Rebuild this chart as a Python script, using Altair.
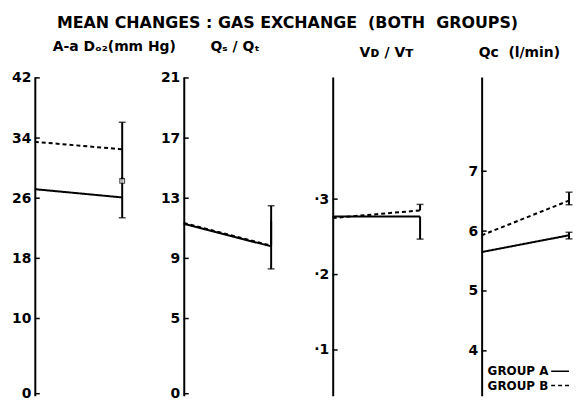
import altair as alt
import pandas as pd

main_title = "MEAN CHANGES : GAS EXCHANGE\u00a0\u00a0(BOTH\u00a0\u00a0GROUPS)"
panel_titles = ["A-a Dₒ₂(mm Hg)", "Qₛ / Qₜ", "Vᴅ / Vᴛ", "Qᴄ\u00a0\u00a0(l/min)"]
groups = ["GROUP A", "GROUP B"]

# means (pre, post) per panel
a_pre = [27.2, 11.3, 0.277, 5.65]
a_post = [26.1, 9.8, 0.277, 5.93]
b_pre = [33.5, 11.35, 0.275, 5.93]
b_post = [32.5, 9.85, 0.285, 6.51]
# error bar ends at post
a_err_lo = [23.4, 8.3, 0.247, 5.87]
a_err_hi = [28.8, 11.5, 0.277, 5.98]
b_err_lo = [28.3, 9.85, 0.285, 6.44]
b_err_hi = [36.1, 12.5, 0.293, 6.65]
# end caps drawn on the error bars
cap_vals = [[23.4, 36.1], [8.3, 12.5], [0.247, 0.293], [5.87, 5.98, 6.44, 6.65]]
# open square marker (panel 1)
marker_vals = [28.3]

tick_vals = [[0, 10, 18, 26, 34, 42], [0, 5, 9, 13, 17, 21], [0.1, 0.2, 0.3], [4, 5, 6, 7]]
y_domains = [[-0.26, 42.13], [-0.13, 21.07], [0.0395, 0.462], [3.252, 8.575]]
legend_y = [3.66, 3.42]

title_dx = [18, 27, 27, -3]
FONT = "DejaVu Sans"
W, H = 88, 321

dash_scale = alt.Scale(domain=groups, range=[[1, 0], [4, 3]])


def panel(i):
    lines = pd.DataFrame({
        "t": [0, 1, 0, 1],
        "v": [a_pre[i], a_post[i], b_pre[i], b_post[i]],
        "g": ["GROUP A", "GROUP A", "GROUP B", "GROUP B"],
    })
    errs = pd.DataFrame({
        "t": [1, 1],
        "lo": [a_err_lo[i], b_err_lo[i]],
        "hi": [a_err_hi[i], b_err_hi[i]],
        "g": groups,
    })
    caps = pd.DataFrame({"t": [1] * len(cap_vals[i]), "v": cap_vals[i]})
    ticks = pd.DataFrame({"v": tick_vals[i]})

    yscale = alt.Scale(domain=y_domains[i], nice=False, zero=False)
    xscale = alt.Scale(domain=[0, 1], nice=False)
    fmt = {"labelExpr": "'·' + format(datum.value * 10, 'd')"} if i == 2 else {"format": "d"}
    axis = alt.Axis(values=tick_vals[i], tickSize=0, labelPadding=4, grid=False,
                    domainColor="black", domainWidth=2, labelColor="black",
                    labelFont=FONT, labelFontSize=14, labelFontWeight="bold",
                    minExtent=25, maxExtent=25, title=None, **fmt)

    base_line = alt.Chart(lines).mark_line(color="black", strokeWidth=2).encode(
        x=alt.X("t:Q", scale=xscale, axis=None),
        y=alt.Y("v:Q", scale=yscale, axis=axis),
        strokeDash=alt.StrokeDash("g:N", scale=dash_scale, legend=None),
        detail="g:N",
    )
    err_rule = alt.Chart(errs).mark_rule(color="black", strokeWidth=2).encode(
        x=alt.X("t:Q", scale=xscale), y=alt.Y("lo:Q", scale=yscale), y2="hi:Q")
    cap = alt.Chart(caps).mark_tick(color="black", thickness=1.5, size=7, orient="horizontal").encode(
        x=alt.X("t:Q", scale=xscale), y=alt.Y("v:Q", scale=yscale))
    tick_rule = alt.Chart(ticks).mark_rule(color="black", strokeWidth=1.5).encode(
        x=alt.value(0), x2=alt.value(5), y=alt.Y("v:Q", scale=yscale))

    layers = [base_line, err_rule, cap, tick_rule]
    if i == 0:
        mk = pd.DataFrame({"t": [1] * len(marker_vals), "v": marker_vals})
        layers.append(alt.Chart(mk).mark_point(shape="square", size=22, filled=True, fill="white",
                                               stroke="black", strokeWidth=1.2).encode(
            x=alt.X("t:Q", scale=xscale), y=alt.Y("v:Q", scale=yscale)))
    if i == 3:
        leg = pd.DataFrame({"g": groups, "ly": legend_y})
        layers.append(alt.Chart(leg).mark_text(align="left", baseline="middle", font=FONT,
                                               fontSize=12, fontWeight="bold", color="black").encode(
            x=alt.value(6), y=alt.Y("ly:Q", scale=yscale), text="g:N"))
        layers.append(alt.Chart(leg).mark_rule(color="black", strokeWidth=1.5).encode(
            x=alt.value(70), x2=alt.value(88), y=alt.Y("ly:Q", scale=yscale),
            strokeDash=alt.StrokeDash("g:N", scale=dash_scale, legend=None)))

    return alt.layer(*layers).properties(
        width=W, height=H,
        title=alt.TitleParams(panel_titles[i], anchor="start", frame="group", dx=title_dx[i],
                              offset=17, font=FONT, fontSize=14, fontWeight="bold", color="black"),
    )


chart = alt.hconcat(*[panel(i) for i in range(4)], spacing=62, bounds="flush").properties(
    title=alt.TitleParams(main_title, anchor="middle", font=FONT, fontSize=16, fontWeight="bold",
                          color="black", offset=9, dx=-4),
    padding={"left": 2, "top": 5, "right": 0, "bottom": 0},
).configure_view(stroke=None)

chart.save("out.html", embed_options={"renderer": "svg", "actions": False})
